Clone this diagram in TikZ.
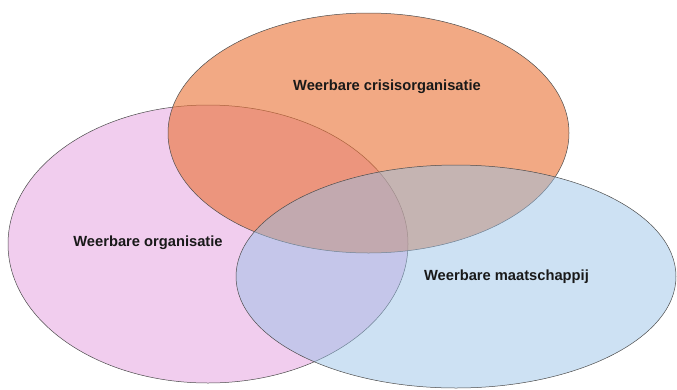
\documentclass[tikz,border=0pt]{standalone}
\usepackage{fontspec}
\setmainfont{Liberation Sans}
\begin{document}
\begin{tikzpicture}[x=1pt,y=-1pt,
  setedge/.style={draw=black!70, line width=0.5pt},
  setlabel/.style={font=\fontsize{14.7}{17}\selectfont\bfseries, text=black!90},
]
\definecolor{pinkset}{RGB}{241,205,238}
\definecolor{orangeset}{RGB}{233,112,50}
\definecolor{blueset}{RGB}{150,192,230}
\useasboundingbox (0,0) rectangle (677,389);
% three overlapping sets
\draw[setedge, fill=pinkset] (208,244) ellipse [x radius=200, y radius=139];
\draw[setedge, fill=orangeset, fill opacity=0.6] (368.5,133) ellipse [x radius=200.5, y radius=120];
\draw[setedge, fill=blueset, fill opacity=0.48] (456,276.5) ellipse [x radius=220, y radius=111.5];
% labels
\node[setlabel] (crisis) at (387,87) {Weerbare crisisorganisatie};
\node[setlabel] (org) at (148,243) {Weerbare organisatie};
\node[setlabel] (soc) at (506.5,277) {Weerbare maatschappij};
\end{tikzpicture}
\end{document}
